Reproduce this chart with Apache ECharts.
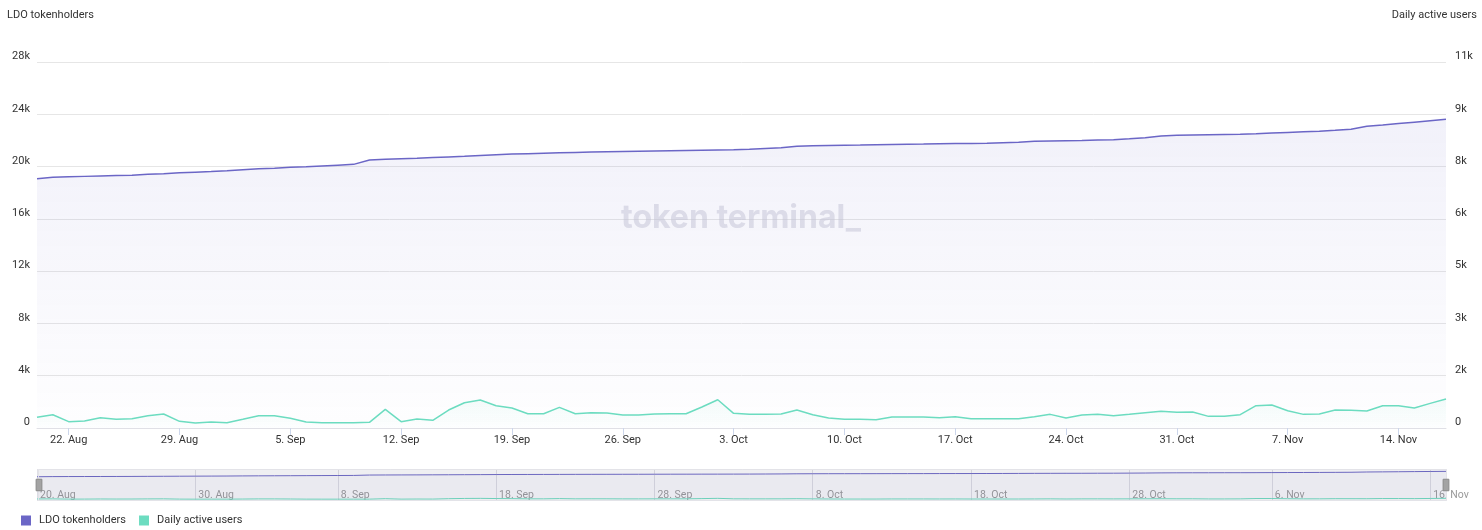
<!DOCTYPE html>
<html>
<head>
<meta charset="utf-8">
<script src="https://cdn.jsdelivr.net/npm/echarts@6/dist/echarts.min.js"></script>
<style>
html,body{margin:0;padding:0;background:#fff;}
#c{width:1482px;height:530px;}
</style>
</head>
<body>
<div id="c"></div>
<script>
var dates = [
'20. Aug','21. Aug','22. Aug','23. Aug','24. Aug','25. Aug','26. Aug','27. Aug','28. Aug','29. Aug','30. Aug','31. Aug',
'1. Sep','2. Sep','3. Sep','4. Sep','5. Sep','6. Sep','7. Sep','8. Sep','9. Sep','10. Sep','11. Sep','12. Sep','13. Sep','14. Sep','15. Sep','16. Sep','17. Sep','18. Sep','19. Sep','20. Sep','21. Sep','22. Sep','23. Sep','24. Sep','25. Sep','26. Sep','27. Sep','28. Sep','29. Sep','30. Sep',
'1. Oct','2. Oct','3. Oct','4. Oct','5. Oct','6. Oct','7. Oct','8. Oct','9. Oct','10. Oct','11. Oct','12. Oct','13. Oct','14. Oct','15. Oct','16. Oct','17. Oct','18. Oct','19. Oct','20. Oct','21. Oct','22. Oct','23. Oct','24. Oct','25. Oct','26. Oct','27. Oct','28. Oct','29. Oct','30. Oct','31. Oct',
'1. Nov','2. Nov','3. Nov','4. Nov','5. Nov','6. Nov','7. Nov','8. Nov','9. Nov','10. Nov','11. Nov','12. Nov','13. Nov','14. Nov','15. Nov','16. Nov','17. Nov'
];
var tokenholders = [
19070,19190,19220,19250,19280,19310,19340,19410,19460,19520,19570,19620,
19680,19760,19830,19880,19940,19990,20050,20110,20170,20500,20560,20600,20640,20690,20740,20790,20850,20910,20960,20990,21020,21050,21080,21110,21130,21150,21170,21190,21210,21230,
21250,21270,21290,21320,21380,21440,21560,21600,21620,21640,21650,21670,21690,21710,21720,21740,21760,21770,21790,21830,21870,21930,21960,21980,22000,22030,22060,22120,22200,22330,22390,
22410,22430,22450,22470,22510,22560,22610,22660,22700,22770,22850,23080,23180,23290,23400,23510,23620
];
var dailyActive = [
320,400,190,210,310,260,280,370,420,200,150,180,
160,260,370,370,290,180,160,160,160,170,560,190,270,230,540,760,840,670,600,430,430,620,430,460,450,390,390,420,430,430,
630,850,440,410,410,420,540,400,300,260,260,250,330,330,330,310,340,280,280,280,280,340,410,300,390,410,370,410,460,500,470,
480,350,350,400,670,690,520,410,420,540,530,510,670,670,600,740,870
];
var mainTicks = ['22. Aug','29. Aug','5. Sep','12. Sep','19. Sep','26. Sep','3. Oct','10. Oct','17. Oct','24. Oct','31. Oct','7. Nov','14. Nov'];
var navTicks = ['20. Aug','30. Aug','8. Sep','18. Sep','28. Sep','8. Oct','18. Oct','28. Oct','6. Nov','16. Nov'];

var PURPLE = '#6b66c6';
var TEAL = '#6cdcc0';
var FONT = 'Roboto, Inter, "Noto Sans", sans-serif';

function isMain(i, v){ return mainTicks.indexOf(v) >= 0; }
function isNav(i, v){ return navTicks.indexOf(v) >= 0; }
function kFmt(v){ return v === 0 ? '0' : Math.round(v/1000) + 'k'; }

var chart = echarts.init(document.getElementById('c'));
chart.setOption({
  animation: false,
  textStyle: {fontFamily: FONT},
  title: [
    {text: 'LDO tokenholders', left: 2, top: 5, textStyle: {fontSize: 11, fontWeight: 'normal', color: '#333', fontFamily: FONT}},
    {text: 'Daily active users', right: 0, top: 5, textStyle: {fontSize: 11, fontWeight: 'normal', color: '#333', fontFamily: FONT}}
  ],
  graphic: [{
    type: 'text', left: 'center', top: 202, z: 1, silent: true,
    style: {text: 'token terminal_', fontSize: 32, fontWeight: 700, fontFamily: 'Inter, Roboto, sans-serif', fill: 'rgba(200,200,214,0.5)'}
  }],
  legend: {
    data: ['LDO tokenholders', 'Daily active users'],
    left: 16, top: 510, icon: 'rect', itemWidth: 10, itemHeight: 10, itemGap: 13,
    textStyle: {fontSize: 11, color: '#333', fontFamily: FONT, padding: [0,0,0,3]}
  },
  grid: [
    {left: 37, right: 36, top: 62, bottom: 102},
    {left: 37, right: 36, top: 469, height: 32}
  ],
  xAxis: [
    {
      type: 'category', gridIndex: 0, data: dates, boundaryGap: false,
      axisLine: {lineStyle: {color: '#e0e0e6', width: 1}},
      axisTick: {show: true, interval: isMain, length: 7, lineStyle: {color: '#ccd6eb'}},
      axisLabel: {interval: isMain, color: '#333', fontSize: 11, margin: 7, fontFamily: FONT},
      splitLine: {show: false}
    },
    {
      type: 'category', gridIndex: 1, data: dates, boundaryGap: false,
      axisLine: {show: false}, axisTick: {show: false},
      axisLabel: {interval: isNav, inside: true, align: 'left', color: '#999', fontSize: 10.5, margin: 0, padding: [0,0,0,3], fontFamily: FONT},
      splitLine: {show: true, interval: isNav, lineStyle: {color: '#e0e0e6'}}
    }
  ],
  yAxis: [
    {
      type: 'value', gridIndex: 0, min: 0, max: 28000, interval: 4000, position: 'left',
      axisLine: {show: false}, axisTick: {show: false},
      axisLabel: {formatter: kFmt, color: '#333', fontSize: 11, margin: 7, verticalAlign: 'bottom', fontFamily: FONT},
      splitLine: {lineStyle: {color: '#e6e6e6'}}
    },
    {
      type: 'value', gridIndex: 0, min: 0, max: 11000, interval: 11000/7, position: 'right',
      axisLine: {show: false}, axisTick: {show: false},
      axisLabel: {formatter: kFmt, color: '#333', fontSize: 11, margin: 9, verticalAlign: 'bottom', fontFamily: FONT},
      splitLine: {show: false}
    },
    {type: 'value', gridIndex: 1, min: -1400, max: 25600, show: false, splitLine: {show: false}}
  ],
  dataZoom: [{
    type: 'slider', xAxisIndex: [1], filterMode: 'none', start: 0, end: 100,
    left: 37, right: 36, top: 469, height: 32,
    showDataShadow: false, showDetail: false, brushSelect: false, moveHandleSize: 0,
    backgroundColor: 'rgba(0,0,0,0)', borderColor: '#e3e3e8',
    fillerColor: 'rgba(110,110,140,0.11)',
    handleIcon: 'path://M0,0 L6,0 L6,12 L0,12 Z',
    handleSize: '36%',
    handleStyle: {color: '#a3a3a3', borderColor: '#8a8a8a', borderWidth: 1},
    textStyle: {color: 'rgba(0,0,0,0)'}
  }],
  series: [
    {
      name: 'LDO tokenholders', type: 'line', xAxisIndex: 0, yAxisIndex: 0, data: tokenholders,
      showSymbol: false, z: 3,
      lineStyle: {color: PURPLE, width: 1.5}, itemStyle: {color: PURPLE},
      areaStyle: {color: new echarts.graphic.LinearGradient(0,0,0,1,[
        {offset: 0, color: 'rgba(107,102,198,0.13)'},
        {offset: 1, color: 'rgba(107,102,198,0.01)'}
      ])}
    },
    {
      name: 'Daily active users', type: 'line', xAxisIndex: 0, yAxisIndex: 1, data: dailyActive,
      showSymbol: false, z: 3,
      lineStyle: {color: TEAL, width: 1.5}, itemStyle: {color: TEAL},
      areaStyle: {color: new echarts.graphic.LinearGradient(0,0,0,1,[
        {offset: 0, color: 'rgba(108,220,192,0.10)'},
        {offset: 1, color: 'rgba(108,220,192,0.01)'}
      ])}
    },
    {
      name: 'nav-holders', type: 'line', xAxisIndex: 1, yAxisIndex: 2, data: tokenholders,
      showSymbol: false, silent: true,
      lineStyle: {color: PURPLE, width: 1}, itemStyle: {color: PURPLE},
      areaStyle: {color: 'rgba(107,102,198,0.05)'}
    },
    {
      name: 'nav-dau', type: 'line', xAxisIndex: 1, yAxisIndex: 2, data: dailyActive,
      showSymbol: false, silent: true,
      lineStyle: {color: TEAL, width: 1}, itemStyle: {color: TEAL}
    }
  ]
});
</script>
</body>
</html>
